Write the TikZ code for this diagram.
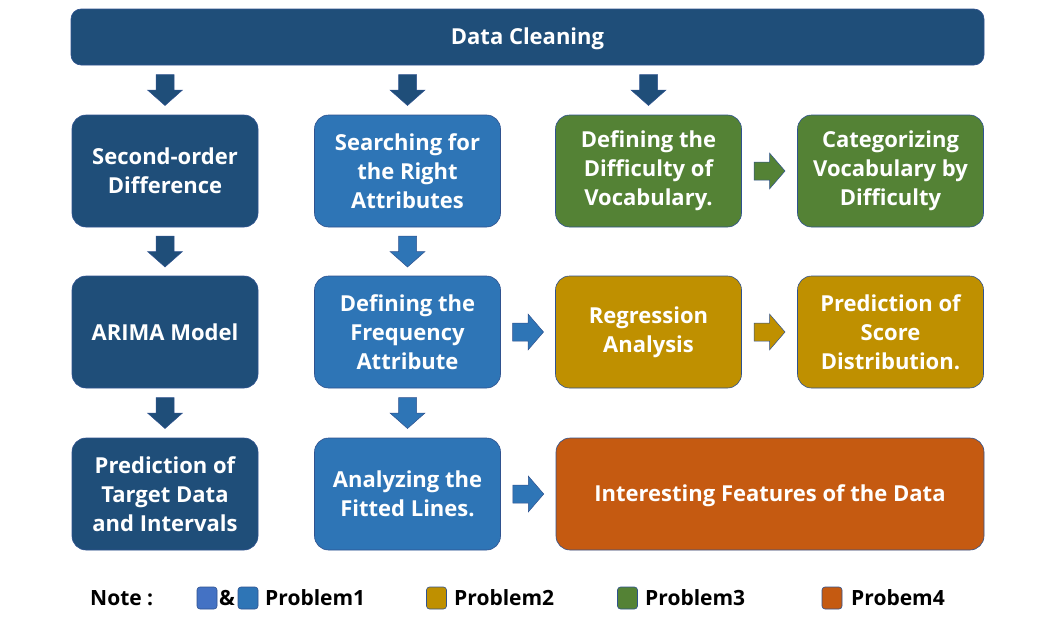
\documentclass[tikz,border=0pt]{standalone}
\usepackage{fontspec}
\setmainfont{Open Sans}
\usetikzlibrary{calc}
\definecolor{dblue}{HTML}{1F4E79}
\definecolor{mblue}{HTML}{2E75B6}
\definecolor{lblue}{HTML}{4472C4}
\definecolor{pgreen}{HTML}{548235}
\definecolor{pgold}{HTML}{BF9000}
\definecolor{porange}{HTML}{C55A11}
\definecolor{edge}{HTML}{2F528F}
\tikzset{
  box/.style={rectangle, rounded corners=14pt, draw=edge, line width=0.6pt,
    minimum width=186pt, minimum height=112pt, align=center, text=white,
    font=\fontsize{22}{29}\selectfont\bfseries, inner sep=0pt},
  legtext/.style={anchor=west, font=\fontsize{21}{22}\selectfont\bfseries, text=black, inner sep=0pt},
  legbox/.style={rectangle, rounded corners=3pt, draw=edge, line width=0.6pt,
    minimum width=20pt, minimum height=22pt, inner sep=0pt},
  pics/darrow/.style={code={
    \filldraw[fill=#1, draw=edge, line width=0.5pt]
      (-9,-15.5) -- (9,-15.5) -- (9,0) -- (17.5,0) -- (0,15.5) -- (-17.5,0) -- (-9,0) -- cycle;}},
  pics/rarrow/.style={code={
    \filldraw[fill=#1, draw=edge, line width=0.5pt]
      (-15.5,-9) -- (0,-9) -- (0,-18) -- (15.5,0) -- (0,18) -- (0,9) -- (-15.5,9) -- cycle;}},
}
\begin{document}
\begin{tikzpicture}[x=1pt,y=-1pt]
\useasboundingbox (0,0) rectangle (1044,621);
% top bar
\node[box, fill=dblue, minimum width=913pt, minimum height=56pt, rounded corners=10pt,
  text height=20pt, text depth=5.3pt] (top) at (527.5,37) {Data Cleaning};
% column 1
\node[box, fill=dblue] (a1) at (165,171) {Second-order\\Difference};
\node[box, fill=dblue] (a2) at (165,332) {ARIMA Model};
\node[box, fill=dblue] (a3) at (165,494) {Prediction of\\Target Data\\and Intervals};
% column 2
\node[box, fill=mblue] (b1) at (407.5,171) {Searching for\\the Right\\Attributes};
\node[box, fill=mblue] (b2) at (407.5,332) {Defining the\\Frequency\\Attribute};
\node[box, fill=mblue] (b3) at (407.5,494) {Analyzing the\\Fitted Lines.};
% column 3/4
\node[box, fill=pgreen] (c1) at (648.5,171) {Defining the\\Difficulty of\\Vocabulary.};
\node[box, fill=pgreen] (d1) at (890.5,171) {Categorizing\\Vocabulary by\\Difficulty};
\node[box, fill=pgold] (c2) at (648.5,332) {Regression\\Analysis};
\node[box, fill=pgold] (d2) at (890.5,332) {Prediction of\\Score\\Distribution.};
\node[box, fill=porange, minimum width=428pt, text height=21pt, text depth=5.3pt] (c3) at (770,494) {Interesting Features of the Data};
% down arrows
\pic at ($(top.south -| a1)!0.5!(a1.north)$) {darrow=dblue};
\pic at ($(top.south -| b1)!0.5!(b1.north)$) {darrow=dblue};
\pic at ($(top.south -| c1)!0.5!(c1.north)$) {darrow=dblue};
\pic at ($(a1.south)!0.5!(a2.north)$) {darrow=dblue};
\pic at ($(a2.south)!0.5!(a3.north)$) {darrow=dblue};
\pic at ($(b1.south)!0.5!(b2.north)$) {darrow=mblue};
\pic at ($(b2.south)!0.5!(b3.north)$) {darrow=mblue};
% right arrows
\pic at ($(c1.east)!0.5!(d1.west)$) {rarrow=pgreen};
\pic at ($(c2.east)!0.5!(d2.west)$) {rarrow=pgold};
\pic at ($(b2.east)!0.5!(c2.west)$) {rarrow=mblue};
\pic at ($(b3.east)!0.5!(c3.west)$) {rarrow=mblue};
% legend
\node[legtext] (note) at (90,598) {Note :};
\node[legbox, fill=lblue] (l1) at (207,598) {};
\node[legtext] (amp) at (219,598) {\&};
\node[legbox, fill=mblue] (l2) at (248,598) {};
\node[legtext] (p1) at (265,598) {Problem1};
\node[legbox, fill=pgold] (l3) at (436.5,598) {};
\node[legtext] (p2) at (454,598) {Problem2};
\node[legbox, fill=pgreen] (l4) at (627.5,598) {};
\node[legtext] (p3) at (645,598) {Problem3};
\node[legbox, fill=porange] (l5) at (832,598) {};
\node[legtext] (p4) at (851,598) {Probem4};
\end{tikzpicture}
\end{document}
